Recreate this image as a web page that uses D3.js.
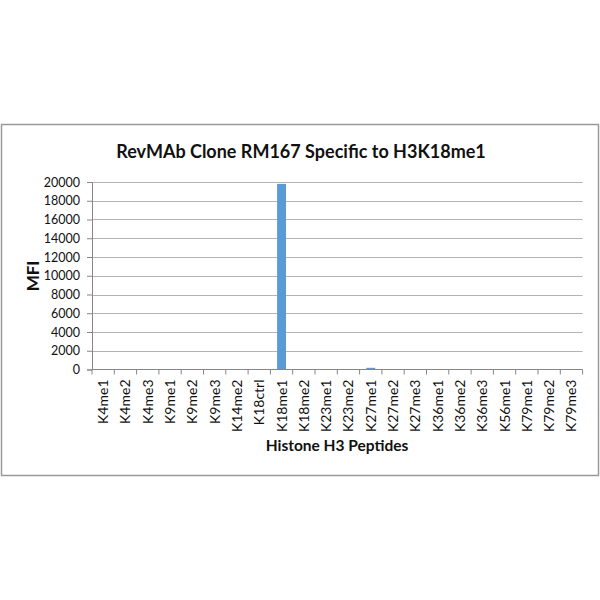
<!DOCTYPE html>
<html>
<head>
<meta charset="utf-8">
<script src="https://cdn.jsdelivr.net/npm/d3@7"></script>
<style>
  body { margin: 0; background: #fff; }
  svg { display: block; font-family: Lato, "Open Sans", sans-serif; }
</style>
</head>
<body>
<svg width="600" height="600"></svg>
<script>
const peptides = ['K4me1', 'K4me2', 'K4me3', 'K9me1', 'K9me2', 'K9me3', 'K14me2', 'K18ctrl',
  'K18me1', 'K18me2', 'K23me1', 'K23me2', 'K27me1', 'K27me2', 'K27me3', 'K36me1',
  'K36me2', 'K36me3', 'K56me1', 'K79me1', 'K79me2', 'K79me3'];
const mfi = [30, 25, 30, 35, 30, 25, 30, 40,
  19800, 40, 30, 35, 180, 40, 35, 30,
  30, 25, 30, 25, 30, 25];
const yTicks = [0, 2000, 4000, 6000, 8000, 10000, 12000, 14000, 16000, 18000, 20000];

const titleText = 'RevMAb Clone RM167 Specific to H3K18me1';
const xTitle = 'Histone H3 Peptides';
const yTitle = 'MFI';

const svg = d3.select('svg');

// chart frame
svg.append('rect')
  .attr('x', 1.5).attr('y', 124.5)
  .attr('width', 597).attr('height', 351)
  .attr('fill', '#fff')
  .attr('stroke', '#9a9a9a')
  .attr('stroke-width', 1.5);

const plot = {left: 92, right: 582.6, top: 182, bottom: 369.5};

const x = d3.scaleBand()
  .domain(peptides)
  .range([plot.left, plot.right])
  .paddingInner(0.6)
  .paddingOuter(0.3);

// band boundaries for the category ticks
const step = (plot.right - plot.left) / peptides.length;

const y = d3.scaleLinear().domain([0, 20000]).range([plot.bottom, plot.top]);

// gridlines
svg.append('g')
  .selectAll('line')
  .data(yTicks.slice(1))
  .join('line')
  .attr('x1', plot.left).attr('x2', plot.right)
  .attr('y1', d => Math.round(y(d)) + 0.5)
  .attr('y2', d => Math.round(y(d)) + 0.5)
  .attr('stroke', '#b4b4b4')
  .attr('stroke-width', 1);

// bars
svg.append('g')
  .selectAll('rect')
  .data(peptides)
  .join('rect')
  .attr('x', d => x(d))
  .attr('width', x.bandwidth())
  .attr('y', (d, i) => y(mfi[i]))
  .attr('height', (d, i) => plot.bottom - y(mfi[i]))
  .attr('fill', '#5b9bd5');

// y axis
const yAxis = svg.append('g')
  .attr('transform', `translate(${plot.left},0)`)
  .call(d3.axisLeft(y).tickValues(yTicks).tickSize(5).tickPadding(7).tickFormat(d3.format('d')));
yAxis.select('.domain').attr('stroke', '#868686');
yAxis.selectAll('.tick line').attr('stroke', '#868686');
yAxis.selectAll('.tick text')
  .attr('font-size', 12.5)
  .attr('fill', '#111')
  .style('font-family', 'Lato, sans-serif');

// x axis line and boundary ticks
const xAxis = svg.append('g');
xAxis.append('line')
  .attr('x1', plot.left).attr('x2', plot.right)
  .attr('y1', plot.bottom).attr('y2', plot.bottom)
  .attr('stroke', '#868686');
xAxis.selectAll('line.tk')
  .data(d3.range(peptides.length + 1))
  .join('line')
  .attr('class', 'tk')
  .attr('x1', i => plot.left + i * step)
  .attr('x2', i => plot.left + i * step)
  .attr('y1', plot.bottom).attr('y2', plot.bottom + 5)
  .attr('stroke', '#868686');
xAxis.selectAll('text')
  .data(peptides)
  .join('text')
  .attr('transform', d => `translate(${x(d) + x.bandwidth() / 2},379.5) rotate(-90)`)
  .attr('dy', '0.36em')
  .attr('text-anchor', 'end')
  .attr('font-size', 14)
  .attr('fill', '#111')
  .text(d => d);

// titles
svg.append('text')
  .attr('x', 301).attr('y', 158)
  .attr('text-anchor', 'middle')
  .attr('font-size', 18)
  .attr('font-weight', 'bold')
  .attr('fill', '#111')
  .text(titleText);

svg.append('text')
  .attr('x', 337).attr('y', 451)
  .attr('text-anchor', 'middle')
  .attr('font-size', 15.5)
  .attr('font-weight', 'bold')
  .attr('fill', '#111')
  .text(xTitle);

svg.append('text')
  .attr('transform', 'translate(39,276) rotate(-90)')
  .attr('text-anchor', 'middle')
  .attr('font-size', 17)
  .attr('font-weight', 'bold')
  .attr('fill', '#111')
  .text(yTitle);
</script>
</body>
</html>
